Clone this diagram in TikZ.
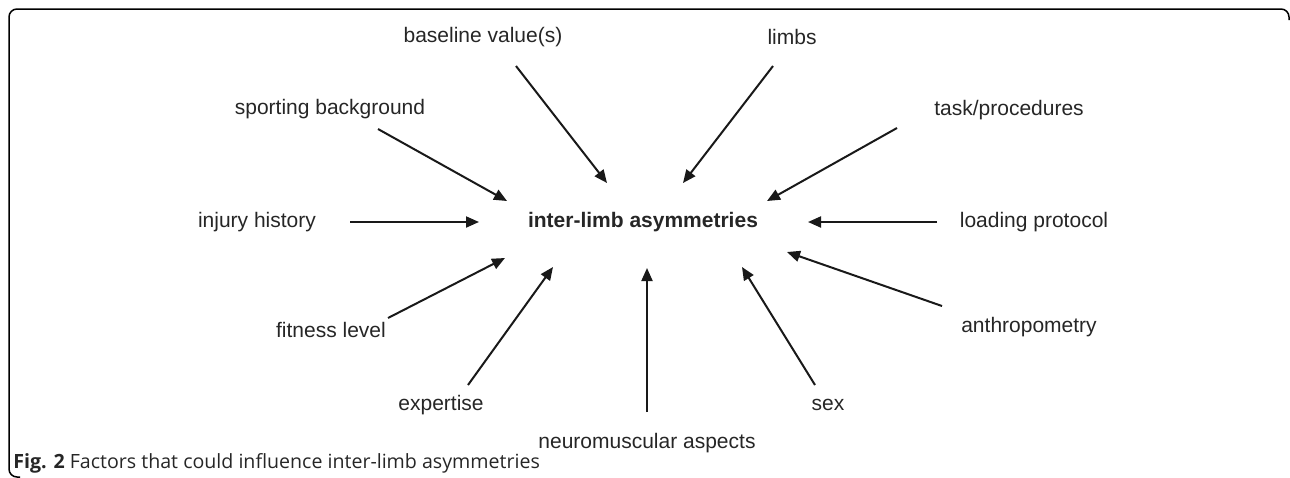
\documentclass[tikz,border=0pt]{standalone}
\usepackage{fontspec}
\setmainfont{Liberation Sans}
\newfontfamily\capfont{Open Sans}
\usetikzlibrary{arrows.meta}
\tikzset{
    factor/.style={text=black!85, font=\fontsize{10.5}{12}\selectfont, inner sep=0pt},
    feed/.style={-{Triangle[length=6.5pt,width=5.5pt]}, line width=1pt, draw=black!90},
  }
\begin{document}
\begin{tikzpicture}[x=0.5pt,y=-0.5pt]
				  %cadre
				  \useasboundingbox (0,0) rectangle (1290,477);
				  \draw[line width=0.75pt, rounded corners=4pt] (1289,20) -- (1289,9) -- (9,9) -- (9,477) -- (20,477);
				  
				  \node[factor, font=\bfseries\fontsize{10.5}{12}\selectfont] (main) at (643,222) {inter-limb asymmetries};
				  \node[factor] (base) at (483,37) {baseline value(s)};
				  \node[factor] (limbs) at (792,37) {limbs};
				  \node[factor] (sport) at (330,109) {sporting background};
				  \node[factor] (task) at (1009,110) {task/procedures};
				  \node[factor] (injury) at (257,222) {injury history};
				  \node[factor] (load) at (1034,222) {loading protocol};
				  \node[factor] (fit) at (331,330) {fitness level};
				  \node[factor] (anthro) at (1029,327) {anthropometry};
				  \node[factor] (expert) at (441,405) {expertise};
				  \node[factor] (sex) at (828,405) {sex};
				  \node[factor] (neuro) at (647,443) {neuromuscular aspects};
				  
				  %debut et fin des fleches
				  \coordinate(B) at (516,66);    \coordinate(B') at (607,183);
				  \coordinate(L) at (773,66);    \coordinate(L') at (683,183);
				  \coordinate(S) at (378,129);   \coordinate(S') at (507,201);
				  \coordinate(T) at (897,128);   \coordinate(T') at (767,201);
				  \coordinate(I) at (350,222);   \coordinate(I') at (479,222);
				  \coordinate(P) at (937,222);   \coordinate(P') at (808,222);
				  \coordinate(F) at (388,318);   \coordinate(F') at (505,258);
				  \coordinate(A) at (942,306);   \coordinate(A') at (787,252);
				  \coordinate(E) at (468,385);   \coordinate(E') at (553,267);
				  \coordinate(X) at (815,385);   \coordinate(X') at (742,267);
				  \coordinate(N) at (647,412);   \coordinate(N') at (647,268);
				  
				  \foreach \p in {B,L,S,T,I,P,F,A,E,X,N}
				    \draw[feed] (\p) -- (\p');
				  
				  \node[anchor=base west, inner sep=0pt, text=black!85, font=\capfont\fontsize{9.8}{11}\selectfont] (cap) at (13,468) {\textbf{Fig. 2} Factors that could influence inter-limb asymmetries};
				  \end{tikzpicture}
\end{document}
